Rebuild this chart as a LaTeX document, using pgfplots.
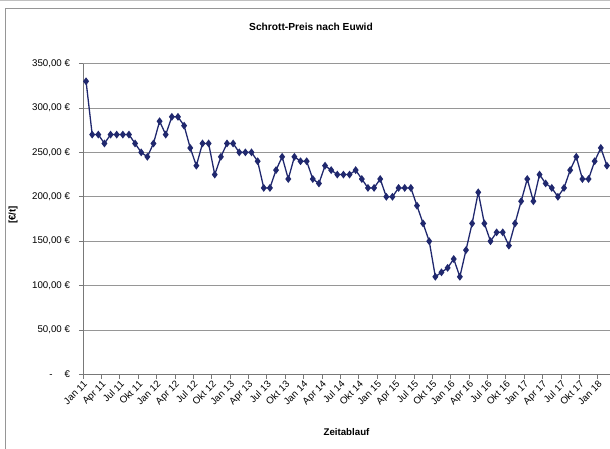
\documentclass[border=0pt]{standalone}
\usepackage{pgfplots}
\pgfplotsset{compat=1.18}
\usepackage{pgfplotstable}
\usepackage{fontspec}
\setmainfont{Liberation Sans}
\definecolor{navy}{RGB}{32,40,110}
\definecolor{gridc}{RGB}{150,150,150}
\definecolor{axisc}{RGB}{120,120,120}
\pgfplotstableread{
i v
0 330
1 270
2 270
3 260
4 270
5 270
6 270
7 270
8 260
9 250
10 245
11 260
12 285
13 270
14 290
15 290
16 280
17 255
18 235
19 260
20 260
21 225
22 245
23 260
24 260
25 250
26 250
27 250
28 240
29 210
30 210
31 230
32 245
33 220
34 245
35 240
36 240
37 220
38 215
39 235
40 230
41 225
42 225
43 225
44 230
45 220
46 210
47 210
48 220
49 200
50 200
51 210
52 210
53 210
54 190
55 170
56 150
57 110
58 115
59 120
60 130
61 110
62 140
63 170
64 205
65 170
66 150
67 160
68 160
69 145
70 170
71 195
72 220
73 195
74 225
75 215
76 210
77 200
78 210
79 230
80 245
81 220
82 220
83 240
84 255
85 235
}\preis
\begin{document}
\begin{tikzpicture}
\path[use as bounding box] (0pt,0pt) rectangle (610pt,448pt);
\draw[gridc!60, line width=0.8pt] (0pt,447.6pt) -- (610pt,447.6pt);
\draw[gridc, line width=0.8pt] (620pt,440pt) -- (5pt,440pt) -- (5pt,-10pt);
\node[font=\bfseries\fontsize{10.2}{12}\selectfont] at (311pt,421pt) {Schrott-Preis nach Euwid};
\node[font=\bfseries\fontsize{9.7}{11}\selectfont, rotate=90] at (13pt,233pt) {[€/t]};
\begin{axis}[
  at={(83pt,73.5pt)}, anchor=south west,
  scale only axis, width=527pt, height=311pt,
  xmin=-0.5, xmax=85.5, ymin=0, ymax=350,
  axis x line*=bottom, axis y line*=left,
  axis line style={-, axisc, line width=0.9pt},
  tick align=outside, major tick length=4pt,
  tick style={axisc, line width=0.7pt},
  xtick={-0.5,2.5,...,83.5},
  xticklabels={Jan 11,Apr 11,Jul 11,Okt 11,Jan 12,Apr 12,Jul 12,Okt 12,Jan 13,Apr 13,Jul 13,Okt 13,Jan 14,Apr 14,Jul 14,Okt 14,Jan 15,Apr 15,Jul 15,Okt 15,Jan 16,Apr 16,Jul 16,Okt 16,Jan 17,Apr 17,Jul 17,Okt 17,Jan 18},
  xticklabel style={rotate=45, anchor=north east, inner sep=1pt, font=\fontsize{9.7}{11}\selectfont},
  ytick={0,50,...,350},
  yticklabels={{-\hspace{12pt}€},{50,00 €},{100,00 €},{150,00 €},{200,00 €},{250,00 €},{300,00 €},{350,00 €}},
  yticklabel style={xshift=-5.5pt, font=\fontsize{9.7}{11}\selectfont},
  ymajorgrids, grid style={gridc, line width=0.8pt},
  xlabel={\bfseries Zeitablauf},
  xlabel style={font=\fontsize{9.7}{11}\selectfont, at={(axis description cs:0.5,0)}, anchor=center, yshift=-57.5pt},
  clip=false,
]
\addplot[navy, line width=1.3pt, mark=diamond*, mark size=2.9pt, mark options={solid, fill=navy}] table[x=i, y=v] {\preis};
\end{axis}
\end{tikzpicture}
\end{document}
